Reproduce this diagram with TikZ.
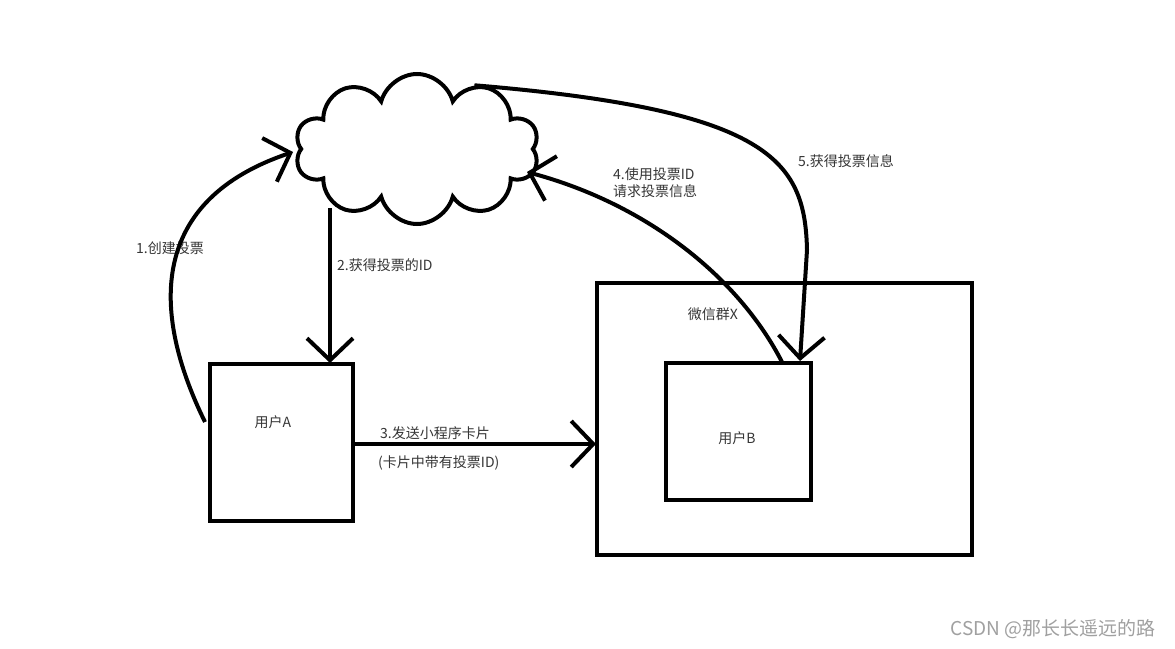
\documentclass[tikz,border=0pt]{standalone}
\usepackage{fontspec}
\newfontfamily\cjk{Noto Sans CJK SC}
\usetikzlibrary{arrows.meta,shapes.symbols}
\definecolor{txt}{HTML}{363636}
\definecolor{wm}{HTML}{A0A0A0}
\begin{document}
\begin{tikzpicture}[x=1pt,y=-1pt,
  box/.style={draw, line width=4pt, inner sep=0pt},
  lbl/.style={text=txt, font=\cjk\fontsize{14}{17}\selectfont, inner sep=0pt},
  conn/.style={line width=4pt, -{Straight Barb[length=22pt,width=46pt]}},
]
\useasboundingbox[fill=white] (0,0) rectangle (1175,648);

% boxes
\node[box, minimum width=143pt, minimum height=157pt] (userA) at (281.5,442.5) {};
\node[box, minimum width=375pt, minimum height=272pt] (group) at (784.5,419) {};
\node[box, minimum width=145pt, minimum height=137pt] (userB) at (738.5,431.5) {};
\node[cloud, draw, line width=4pt, cloud puffs=10, aspect=1.65, minimum width=244pt, minimum height=150pt] (cloud) at (417,149) {};

% labels
\node[lbl] (tA) at (273,422) {用户A};
\node[lbl] (tB) at (737,438) {用户B};
\node[lbl] (tG) at (713,314) {微信群X};
\node[lbl] (t1) at (170,248) {1.创建投票};
\node[lbl, anchor=west] (t2) at (337,265) {2.获得投票的ID};
\node[lbl, anchor=west] (t3) at (380,433) {3.发送小程序卡片};
\node[lbl, anchor=west] (t3b) at (378,463) {(卡片中带有投票ID)};
\node[lbl, anchor=west, align=left] (t4) at (613,183) {4.使用投票ID\\请求投票信息};
\node[lbl, anchor=west] (t5) at (798,161) {5.获得投票信息};
\node[text=wm, font=\cjk\fontsize{19}{21}\selectfont, inner sep=0pt] (wmk) at (1053,629) {CSDN @那长长遥远的路};

% connector end points
\coordinate (a1s) at (205,422);
\coordinate (a1e) at (293,152);
\coordinate (a2s) at (330,208);
\coordinate (a2e) at (330,363);
\coordinate (a3s) at (353,444);
\coordinate (a3e) at (596,444);
\coordinate (a4s) at (782,362);
\coordinate (a4e) at (527,172);
\coordinate (a5m) at (807,250);
\coordinate (a5e) at (800,361);

% connectors
\draw[conn] (a1s) .. controls (150,310) and (150,200) .. (a1e);
\draw[conn] (a2s) -- (a2e);
\draw[conn] (a3s) -- (a3e);
\draw[conn] (a4s) .. controls (740,280) and (650,205) .. (a4e);
\draw[conn] (cloud.48) .. controls (770,110) and (805,160) .. (a5m) -- (a5e);
\end{tikzpicture}
\end{document}
